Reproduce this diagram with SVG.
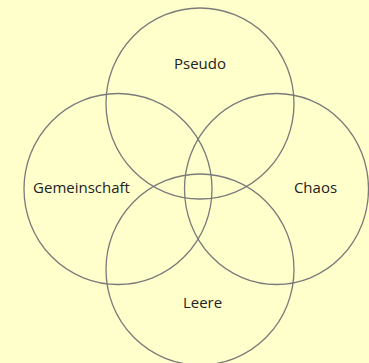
<svg xmlns="http://www.w3.org/2000/svg" width="369" height="363" viewBox="0 0 369 363">
<style>
.c{fill:none;stroke:#7a7a7a;stroke-width:1.3}
.t{font-family:"Open Sans","Noto Sans",sans-serif;font-size:15px;fill:#222;text-anchor:middle}
</style>
<rect width="369" height="363" fill="#FFFFCC"/>
<g id="pseudo"><ellipse class="c" cx="200" cy="103.5" rx="94" ry="95.5"/><text class="t" x="200" y="69">Pseudo</text></g>
<g id="gemeinschaft"><ellipse class="c" cx="118" cy="189" rx="94" ry="95.5"/><text class="t" x="81.5" y="192.5">Gemeinschaft</text></g>
<g id="chaos"><ellipse class="c" cx="276.5" cy="189" rx="92" ry="95.5"/><text class="t" x="315.5" y="192.5">Chaos</text></g>
<g id="leere"><ellipse class="c" cx="200" cy="269.5" rx="94" ry="95.5"/><text class="t" x="202.5" y="308">Leere</text></g>
<g id="connectors"/>
</svg>
